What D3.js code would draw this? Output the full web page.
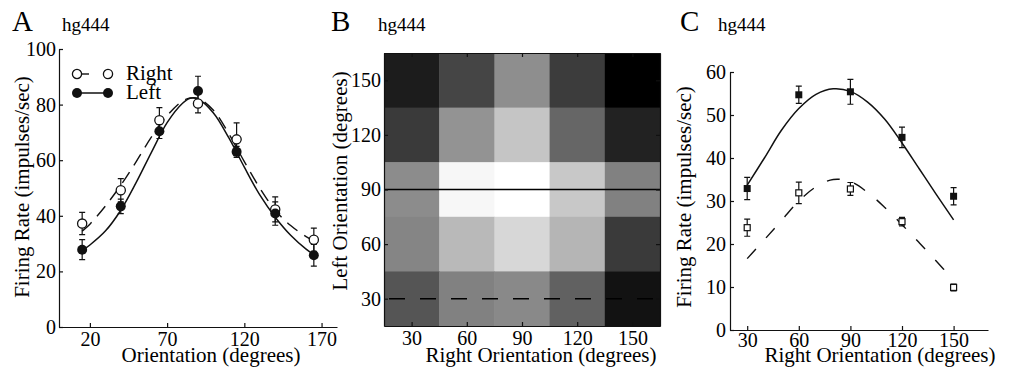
<!DOCTYPE html>
<html>
<head>
<meta charset="utf-8">
<script src="https://cdn.jsdelivr.net/npm/d3@7"></script>
<style>
  body { margin: 0; background: #fff; }
  svg { display: block; }
  text { font-family: "Liberation Serif", "Times New Roman", serif; fill: #000; }
  .tick text { font-size: 20px; }
  .domain, .tick line { stroke: #111; stroke-width: 1.2; }
</style>
</head>
<body>
<svg width="1016" height="373"></svg>
<script>
// ---- Panel A data: firing rate vs orientation, each eye
const orientA = [15, 40, 65, 90, 115, 140, 165];
const rightRateA = [37.2, 49.2, 74.4, 80.4, 67.5, 42.3, 31.4];
const rightErrA = [4.0, 4.2, 4.5, 3.4, 5.9, 4.5, 4.2];
const leftRateA = [27.8, 43.4, 70.4, 84.9, 63.0, 40.8, 25.8];
const leftErrA = [3.6, 2.6, 2.6, 5.3, 2.0, 4.2, 3.9];

// fitted tuning curves
const fitOrientA = [15, 20, 30, 40, 50, 60, 70, 80, 85, 90, 100, 110, 120, 130, 140, 150, 160, 165];
const leftFitA = [27.5, 29.5, 34.5, 42, 52, 63, 73.5, 80.5, 82.3, 82, 77, 68, 57.5, 47.5, 39.5, 33, 28, 26];
const rightFitA = [34.5, 37, 43.5, 51, 59.5, 68.5, 76, 81.3, 82.4, 82.3, 78, 69.5, 59.5, 50, 42, 36.5, 32.5, 31];

const ticksA_x = [20, 70, 120, 170];
const ticksA_y = [0, 20, 40, 60, 80, 100];

// ---- Panel B data: rate matrix, rows = left orientation, cols = right orientation
const heatOrient = [30, 60, 90, 120, 150];
const heatLeftOrient = [150, 120, 90, 60, 30];
const heatRates = [
  [11.5, 19.5, 33.7, 17.8, 6.1],
  [17.4, 34.5, 44.2, 25.9, 12.7],
  [33.3, 54.0, 55.5, 44.8, 31.0],
  [31.8, 41.9, 47.7, 41.1, 17.4],
  [22.6, 31.0, 32.6, 24.8, 9.6]
];

// ---- Panel C data: slices through B at left = 90 and left = 30
const orientC = [30, 60, 90, 120, 150];
const left90Rate = [32.9, 54.7, 55.4, 44.8, 31.1];
const left90Err = [2.6, 2.0, 2.9, 2.4, 2.0];
const left30Rate = [23.8, 31.9, 32.8, 25.2, 9.9];
const left30Err = [2.0, 2.5, 1.5, 1.0, 0.8];

const fitOrientC = [30, 40, 50, 60, 70, 80, 90, 100, 110, 120, 130, 140, 150];
const left90Fit = [33.7, 40, 46.5, 51.5, 54.8, 56.1, 55.5, 53, 49, 43.5, 37.5, 31.5, 25.6];
const left30Fit = [16.6, 21, 25.5, 30, 33.3, 35, 34.5, 32, 28.5, 24.5, 20.3, 16, 11.6];

const ticksC_y = [0, 10, 20, 30, 40, 50, 60];

const svg = d3.select('svg');

const zip = (xs, ys) => xs.map((x, i) => ({x: x, y: ys[i]}));

const panelTitle = (x, letter, xName) => {
  svg.append('text').attr('x', x).attr('y', 31)
    .style('font-size', '29px').text(letter);
  svg.append('text').attr('x', xName).attr('y', 31)
    .style('font-size', '19px').text('hg444');
};

const errBars = (g, pts, sx, sy, cap) => {
  g.selectAll(null).data(pts).enter().append('path')
    .attr('fill', 'none').attr('stroke', '#111').attr('stroke-width', 1.2)
    .attr('d', d => {
      const x = sx(d.x), y0 = sy(d.y - d.e), y1 = sy(d.y + d.e);
      return `M${x},${y0}V${y1}M${x - cap},${y0}H${x + cap}M${x - cap},${y1}H${x + cap}`;
    });
};

// ================= Panel A =================
const xA = d3.scaleLinear().domain([0, 180]).range([59, 337]);
const yA = d3.scaleLinear().domain([0, 100]).range([327, 49]);

panelTitle(12, 'A', 62);

svg.append('g')
  .attr('transform', `translate(0,${yA(0)})`)
  .call(d3.axisBottom(xA).tickValues(ticksA_x).tickSizeInner(-4).tickSizeOuter(0).tickPadding(5));
svg.append('g')
  .attr('transform', `translate(${xA(0)},0)`)
  .call(d3.axisLeft(yA).tickValues(ticksA_y).tickSizeInner(-4).tickSizeOuter(0).tickPadding(3));

const lineA = d3.line().curve(d3.curveCatmullRom).x(d => xA(d.x)).y(d => yA(d.y));
svg.append('path').datum(zip(fitOrientA, rightFitA))
  .attr('fill', 'none').attr('stroke', '#111').attr('stroke-width', 1.4)
  .attr('stroke-dasharray', '13,8').attr('d', lineA);
svg.append('path').datum(zip(fitOrientA, leftFitA))
  .attr('fill', 'none').attr('stroke', '#111').attr('stroke-width', 1.5)
  .attr('d', lineA);

const gA = svg.append('g');
errBars(gA, orientA.map((o, i) => ({x: o, y: rightRateA[i], e: rightErrA[i]})), xA, yA, 3);
errBars(gA, orientA.map((o, i) => ({x: o, y: leftRateA[i], e: leftErrA[i]})), xA, yA, 3);
gA.selectAll(null).data(zip(orientA, rightRateA)).enter().append('circle')
  .attr('cx', d => xA(d.x)).attr('cy', d => yA(d.y)).attr('r', 4.6)
  .attr('fill', '#fff').attr('stroke', '#111').attr('stroke-width', 1.3);
gA.selectAll(null).data(zip(orientA, leftRateA)).enter().append('circle')
  .attr('cx', d => xA(d.x)).attr('cy', d => yA(d.y)).attr('r', 5)
  .attr('fill', '#111');

// legend
const legA = svg.append('g').attr('transform', 'translate(77,74)');
legA.append('line').attr('x1', 4).attr('x2', 12).attr('y1', 0).attr('y2', 0)
  .attr('stroke', '#111').attr('stroke-width', 1.4);
legA.selectAll(null).data([0, 31]).enter().append('circle')
  .attr('cx', d => d).attr('cy', 0).attr('r', 4.6)
  .attr('fill', '#fff').attr('stroke', '#111').attr('stroke-width', 1.3);
legA.append('text').attr('x', 49).attr('y', 6).style('font-size', '21px').text('Right');
legA.append('line').attr('x1', 0).attr('x2', 31).attr('y1', 19).attr('y2', 19)
  .attr('stroke', '#111').attr('stroke-width', 1.5);
legA.selectAll(null).data([0, 31]).enter().append('circle')
  .attr('cx', d => d).attr('cy', 19).attr('r', 5).attr('fill', '#111');
legA.append('text').attr('x', 49).attr('y', 25).style('font-size', '21px').text('Left');

svg.append('text').attr('x', 211).attr('y', 362).attr('text-anchor', 'middle')
  .style('font-size', '21px').text('Orientation (degrees)');
svg.append('text').attr('transform', 'translate(29,187) rotate(-90)').attr('text-anchor', 'middle')
  .style('font-size', '21px').text('Firing Rate (impulses/sec)');

// ================= Panel B =================
const xB = d3.scaleLinear().domain([15, 165]).range([384, 660]);
const yB = d3.scaleLinear().domain([15, 165]).range([326, 53]);
const gray = d3.scaleLinear()
  .domain(d3.extent(heatRates.flat()))
  .range(['#000', '#fff']);

panelTitle(331, 'B', 378);

const cells = [];
heatLeftOrient.forEach((lo, r) => heatOrient.forEach((ro, c) => cells.push({ro: ro, lo: lo, v: heatRates[r][c]})));
svg.append('g').selectAll('rect').data(cells).enter().append('rect')
  .attr('x', d => xB(d.ro - 15)).attr('y', d => yB(d.lo + 15))
  .attr('width', d => xB(d.ro + 15) - xB(d.ro - 15) + 0.5)
  .attr('height', d => yB(d.lo - 15) - yB(d.lo + 15) + 0.5)
  .attr('fill', d => gray(d.v));

// slice markers through the matrix
svg.append('line').attr('x1', xB(15)).attr('x2', xB(165)).attr('y1', yB(90)).attr('y2', yB(90))
  .attr('stroke', '#000').attr('stroke-width', 1.4);
svg.append('line').attr('x1', xB(15)).attr('x2', xB(165)).attr('y1', yB(30)).attr('y2', yB(30))
  .attr('stroke', '#000').attr('stroke-width', 1.4).attr('stroke-dasharray', '16,15')
  .attr('stroke-dashoffset', -5);

svg.append('g').attr('transform', `translate(0,${yB(15)})`)
  .call(d3.axisBottom(xB).tickValues(heatOrient).tickSizeInner(-4).tickSizeOuter(0).tickPadding(5));
svg.append('g').attr('transform', `translate(${xB(15)},0)`)
  .call(d3.axisLeft(yB).tickValues(heatOrient).tickSizeInner(-4).tickSizeOuter(0).tickPadding(3));
svg.append('g').attr('transform', `translate(0,${yB(165)})`)
  .call(d3.axisTop(xB).tickValues(heatOrient).tickFormat('').tickSizeInner(-4).tickSizeOuter(0));
svg.append('g').attr('transform', `translate(${xB(165)},0)`)
  .call(d3.axisRight(yB).tickValues(heatOrient).tickFormat('').tickSizeInner(-4).tickSizeOuter(0));

svg.append('text').attr('x', 541).attr('y', 362).attr('text-anchor', 'middle')
  .style('font-size', '21px').text('Right Orientation (degrees)');
svg.append('text').attr('transform', 'translate(347,181) rotate(-90)').attr('text-anchor', 'middle')
  .style('font-size', '21px').text('Left Orientation (degrees)');

// ================= Panel C =================
const xC = d3.scaleLinear().domain([20, 170]).range([730, 988]);
const yC = d3.scaleLinear().domain([0, 60]).range([330, 72]);

panelTitle(680, 'C', 718);

svg.append('g').attr('transform', `translate(0,${yC(0)})`)
  .call(d3.axisBottom(xC).tickValues(orientC).tickSizeInner(-4).tickSizeOuter(0).tickPadding(3));
svg.append('g').attr('transform', `translate(${xC(20)},0)`)
  .call(d3.axisLeft(yC).tickValues(ticksC_y).tickSizeInner(-4).tickSizeOuter(0).tickPadding(4));

const lineC = d3.line().curve(d3.curveCatmullRom).x(d => xC(d.x)).y(d => yC(d.y));
svg.append('path').datum(zip(fitOrientC, left90Fit))
  .attr('fill', 'none').attr('stroke', '#111').attr('stroke-width', 1.5).attr('d', lineC);
svg.append('path').datum(zip(fitOrientC, left30Fit))
  .attr('fill', 'none').attr('stroke', '#111').attr('stroke-width', 1.4)
  .attr('stroke-dasharray', '13,15').attr('d', lineC);

const gC = svg.append('g');
errBars(gC, orientC.map((o, i) => ({x: o, y: left90Rate[i], e: left90Err[i]})), xC, yC, 3);
errBars(gC, orientC.map((o, i) => ({x: o, y: left30Rate[i], e: left30Err[i]})), xC, yC, 3);
gC.selectAll(null).data(zip(orientC, left90Rate)).enter().append('rect')
  .attr('x', d => xC(d.x) - 3.5).attr('y', d => yC(d.y) - 3.5)
  .attr('width', 7).attr('height', 7).attr('fill', '#111');
gC.selectAll(null).data(zip(orientC, left30Rate)).enter().append('rect')
  .attr('x', d => xC(d.x) - 3).attr('y', d => yC(d.y) - 3)
  .attr('width', 6).attr('height', 6)
  .attr('fill', '#fff').attr('stroke', '#111').attr('stroke-width', 1.2);

svg.append('text').attr('x', 880).attr('y', 362).attr('text-anchor', 'middle')
  .style('font-size', '21px').text('Right Orientation (degrees)');
svg.append('text').attr('transform', 'translate(691,197) rotate(-90)').attr('text-anchor', 'middle')
  .style('font-size', '21px').text('Firing Rate (impulses/sec)');
</script>
</body>
</html>
